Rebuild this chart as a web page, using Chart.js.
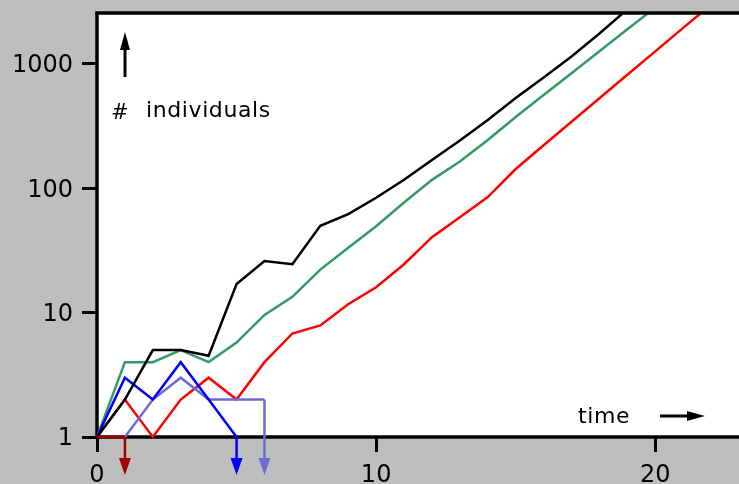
<!DOCTYPE html>
<html>
<head>
<meta charset="utf-8">
<script src="https://cdn.jsdelivr.net/npm/chart.js@4/dist/chart.umd.min.js"></script>
<style>
  html, body { margin: 0; padding: 0; background: #bebebe; }
  #wrap { width: 739px; height: 484px; position: relative; }
</style>
</head>
<body>
<div id="wrap"><canvas id="c"></canvas></div>
<script>
// ---- data ----
const times = [0,1,2,3,4,5,6,7,8,9,10,11,12,13,14,15,16,17,18,19,20,21,22];
const blackValues = [1,2,5,5,4.5,17,26,24.5,50,62,84,117,169,242,355,532,780,1150,1760,2750];
const greenValues = [1,4,4,5,4,5.75,9.6,13.4,22.2,33.3,49.5,77,117,164,245,375,562,843,1265,1900,2840];
const redValues = [1,2,1,2,3,2,4,6.8,7.9,11.7,16,24.5,40.5,58.5,85,143,222,343,530,819,1262,1950,3000];
const blueValues = [1,3,2,4,2,1];
const lightBlueValues = [null,1,2,3,2,2,2];
const darkRedValues = [1,1];
const xTicks = [0,10,20];
const yTicks = [1,10,100,1000];
const xMax = 23;
const yMax = 2570;

function pts(vals) {
  return vals.map((v, i) => ({ x: times[i], y: v }));
}

const FONT = 'DejaVu Sans';

const framePlugin = {
  id: 'frame',
  beforeDraw(chart) {
    const { ctx, chartArea: a } = chart;
    ctx.save();
    ctx.fillStyle = '#ffffff';
    ctx.fillRect(a.left, a.top, a.right - a.left, a.bottom - a.top);
    ctx.restore();
  },
  beforeDatasetsDraw(chart) {
    const { ctx, chartArea: a } = chart;
    ctx.save();
    ctx.strokeStyle = '#000';
    ctx.lineWidth = 3.5;
    ctx.beginPath();
    ctx.moveTo(a.left, a.top);
    ctx.lineTo(a.left, a.bottom);
    ctx.lineTo(a.right + 2, a.bottom);
    ctx.stroke();
    ctx.restore();
  },
  afterDatasetsDraw(chart) {
    const { ctx, chartArea: a } = chart;
    ctx.save();
    // extinction arrows
    chart.data.datasets.forEach((ds, i) => {
      if (!ds.extinct) return;
      const meta = chart.getDatasetMeta(i);
      const last = meta.data[meta.data.length - 1];
      const x = last.x, y = last.y;
      ctx.strokeStyle = ds.borderColor;
      ctx.fillStyle = ds.borderColor;
      ctx.lineWidth = 2.5;
      ctx.beginPath();
      ctx.moveTo(x, y);
      ctx.lineTo(x, a.bottom + 22);
      ctx.stroke();
      ctx.beginPath();
      ctx.moveTo(x - 6, a.bottom + 21);
      ctx.lineTo(x + 6, a.bottom + 21);
      ctx.lineTo(x, a.bottom + 38);
      ctx.closePath();
      ctx.fill();
    });
    // top border
    ctx.strokeStyle = '#000';
    ctx.lineWidth = 3.5;
    ctx.beginPath();
    ctx.moveTo(a.left - 1.75, a.top);
    ctx.lineTo(a.right + 2, a.top);
    ctx.stroke();

    // annotations
    ctx.fillStyle = '#000';
    ctx.strokeStyle = '#000';
    ctx.textBaseline = 'alphabetic';
    ctx.textAlign = 'left';
    // up arrow
    const ux = a.left + 28;
    ctx.lineWidth = 3;
    ctx.beginPath();
    ctx.moveTo(ux, a.top + 64);
    ctx.lineTo(ux, a.top + 32);
    ctx.stroke();
    ctx.beginPath();
    ctx.moveTo(ux, a.top + 19);
    ctx.lineTo(ux + 5, a.top + 37);
    ctx.lineTo(ux - 5, a.top + 37);
    ctx.closePath();
    ctx.fill();
    // # individuals
    ctx.font = 'italic 21px "' + FONT + '"';
    ctx.fillText('#', a.left + 14, a.top + 106);
    ctx.font = '22px "' + FONT + '"';
    try { ctx.letterSpacing = '0.6px'; } catch (e) {}
    ctx.fillText('individuals', a.left + 49, a.top + 104);
    // time ->
    ctx.fillText('time', a.left + 481, a.bottom - 14);
    try { ctx.letterSpacing = '0px'; } catch (e) {}
    const ry = a.bottom - 21;
    ctx.lineWidth = 3;
    ctx.beginPath();
    ctx.moveTo(a.left + 563, ry);
    ctx.lineTo(a.left + 594, ry);
    ctx.stroke();
    ctx.beginPath();
    ctx.moveTo(a.left + 608, ry);
    ctx.lineTo(a.left + 590, ry - 5);
    ctx.lineTo(a.left + 590, ry + 5);
    ctx.closePath();
    ctx.fill();
    ctx.restore();
  }
};

const lineDs = (vals, color, extra) => Object.assign({
  data: pts(vals),
  borderColor: color,
  backgroundColor: color,
  borderWidth: 2.5,
  pointRadius: 0,
  tension: 0,
  fill: false,
  spanGaps: false,
  clip: { left: 3, top: 0, right: 0, bottom: 3 }
}, extra || {});

const zeroPad = s => { s.paddingTop = 0; s.paddingBottom = 0; s.paddingLeft = 0; s.paddingRight = 0; };

new Chart(document.getElementById('c'), {
  type: 'line',
  data: {
    datasets: [
      lineDs(darkRedValues, '#a00000', { extinct: true }),
      lineDs(blackValues, '#000000'),
      lineDs(blueValues, '#0000ff', { extinct: true }),
      lineDs(lightBlueValues, '#6b6bd6', { extinct: true }),
      lineDs(greenValues, '#339966'),
      lineDs(redValues, '#ff0000')
    ]
  },
  options: {
    responsive: true,
    maintainAspectRatio: false,
    animation: false,
    layout: { padding: { top: 13, right: 0, left: 0, bottom: 0 } },
    plugins: { legend: { display: false }, tooltip: { enabled: false } },
    scales: {
      x: {
        type: 'linear',
        min: 0,
        max: xMax,
        afterBuildTicks: s => { s.ticks = xTicks.map(v => ({ value: v })); },
        afterFit: s => { s.height = 47; zeroPad(s); },
        grid: { drawOnChartArea: false, drawTicks: true, tickLength: 15, tickWidth: 3, tickColor: '#000' },
        border: { display: false },
        ticks: { color: '#000', font: { family: FONT, size: 24 }, padding: 9, maxRotation: 0, callback: v => String(v) }
      },
      y: {
        type: 'logarithmic',
        min: 1,
        max: yMax,
        afterBuildTicks: s => { s.ticks = yTicks.map(v => ({ value: v })); },
        afterFit: s => { s.width = 97; zeroPad(s); },
        grid: { drawOnChartArea: false, drawTicks: true, tickLength: 15, tickWidth: 3, tickColor: '#000' },
        border: { display: false },
        ticks: { color: '#000', font: { family: FONT, size: 24 }, padding: 9, labelOffset: 2, callback: v => String(v) }
      }
    }
  },
  plugins: [framePlugin]
});
</script>
</body>
</html>
